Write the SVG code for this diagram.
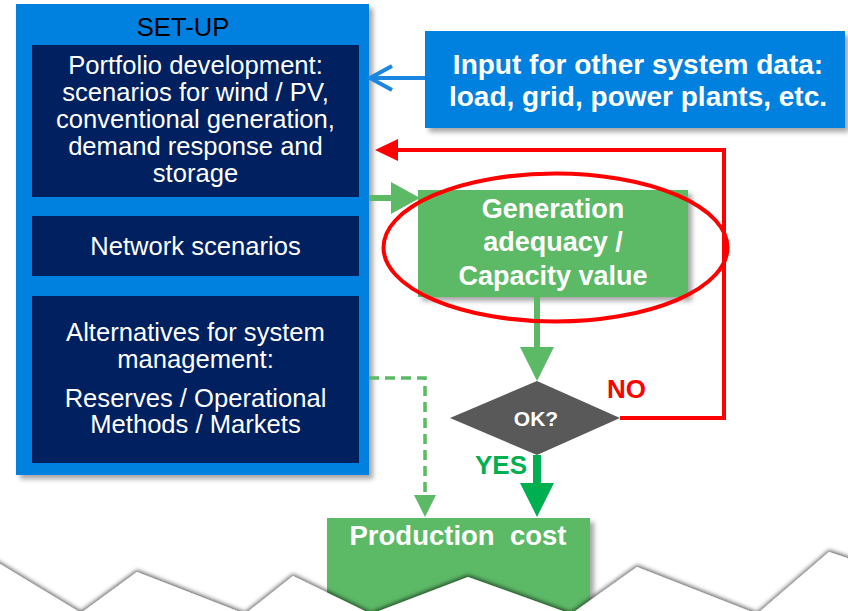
<svg xmlns="http://www.w3.org/2000/svg" width="848" height="611" viewBox="0 0 848 611">
<defs>
<style>
.navy{fill:#002060}
.wt{fill:#ffffff;font-family:"Liberation Sans",Arial,sans-serif;font-size:25.6px;text-anchor:middle}
.bt{fill:#ffffff;font-family:"Liberation Sans",Arial,sans-serif;font-weight:bold;text-anchor:middle}
.lbl{font-family:"Liberation Sans",Arial,sans-serif;font-weight:bold;font-size:26px}
</style>
<filter id="sh" x="-10%" y="-10%" width="125%" height="125%">
<feDropShadow dx="4" dy="4" stdDeviation="2.5" flood-color="#000" flood-opacity="0.35"/>
</filter>
<filter id="tsh" x="-5%" y="-50%" width="110%" height="200%">
<feDropShadow dx="0" dy="-2" stdDeviation="2" flood-color="#000" flood-opacity="0.6"/>
</filter>
</defs>
<rect width="848" height="611" fill="#ffffff"/>

<g id="setup">
<rect x="16" y="4" width="353" height="471" fill="#0181E0" filter="url(#sh)"/>
<text x="183" y="36" font-family="'Liberation Sans',Arial,sans-serif" font-size="25.6" fill="#000" text-anchor="middle">SET-UP</text>
</g>
<g id="portfolio">
<rect class="navy" x="32" y="45" width="327" height="152"/>
<text class="wt" x="195.5" y="74">Portfolio development:</text>
<text class="wt" x="195.5" y="101">scenarios for wind / PV,</text>
<text class="wt" x="195.5" y="128">conventional generation,</text>
<text class="wt" x="195.5" y="155">demand response and</text>
<text class="wt" x="195.5" y="182">storage</text>
</g>
<g id="network">
<rect class="navy" x="32" y="216" width="327" height="60"/>
<text class="wt" x="195.5" y="255">Network scenarios</text>
</g>
<g id="alternatives">
<rect class="navy" x="32" y="296" width="327" height="167"/>
<text class="wt" x="195.5" y="341">Alternatives for system</text>
<text class="wt" x="195.5" y="368">management:</text>
<text class="wt" x="195.5" y="407">Reserves / Operational</text>
<text class="wt" x="195.5" y="433">Methods / Markets</text>
</g>

<g id="input">
<rect x="425" y="31" width="420" height="97" fill="#0181E0" filter="url(#sh)"/>
<text class="bt" x="638" y="74" font-size="28">Input for other system data:</text>
<text class="bt" x="638" y="106" font-size="28">load, grid, power plants, etc.</text>
</g>

<g id="adequacy">
<rect x="418" y="190" width="270" height="107" fill="#5CB966" filter="url(#sh)"/>
<text class="bt" x="553" y="218" font-size="27">Generation</text>
<text class="bt" x="553" y="251" font-size="27">adequacy /</text>
<text class="bt" x="553" y="285" font-size="27">Capacity value</text>
</g>

<g id="ok">
<polygon points="450,418 537,381 620,418 537,455" fill="#595959"/>
<text class="bt" x="536" y="426" font-size="21">OK?</text>
</g>

<g id="production">
<rect x="327" y="518" width="263" height="100" fill="#5CB966" filter="url(#sh)"/>
<text class="bt" x="458" y="545" font-size="27.5" xml:space="preserve">Production  cost</text>
</g>

<g id="connectors">
<path d="M425,78 H370" stroke="#1A86E0" stroke-width="4" fill="none"/>
<path d="M392,66 L370,78 L392,90" stroke="#1A86E0" stroke-width="4" fill="none"/>
<path d="M620,418 H724 V150 H396" stroke="#FF0000" stroke-width="4" fill="none"/>
<polygon points="375,150 398,139 398,161" fill="#FF0000"/>
<path d="M369,198 H393" stroke="#5CB966" stroke-width="6"/>
<polygon points="391,182 391,214 420,198" fill="#5CB966"/>
<path d="M537,297 V348" stroke="#5CB966" stroke-width="6"/>
<polygon points="520,347 554,347 537,381" fill="#5CB966"/>
<path d="M537,455 V485" stroke="#00B050" stroke-width="8"/>
<polygon points="520,483 554,483 537,517" fill="#00B050"/>
<path d="M369,378 H425 V497" stroke="#5CB966" stroke-width="3.5" stroke-dasharray="10,6" fill="none"/>
<polygon points="414,495 436,495 425,517" fill="#5CB966"/>
<text class="lbl" x="607" y="398" fill="#FF0000">NO</text>
<text class="lbl" x="475" y="474" fill="#00B050">YES</text>
</g>

<g id="highlight">
<ellipse cx="555.5" cy="247.5" rx="172" ry="74" fill="none" stroke="#FF0000" stroke-width="4"/>
</g>

<g id="torn-edge">
<polygon points="-5,561 81,613 137,572 245,614 293,576 371,614 468,577 571,614 637,567 757,614 829,552 853,560 853,630 -5,630" fill="#ffffff" filter="url(#tsh)"/>
</g>
</svg>
